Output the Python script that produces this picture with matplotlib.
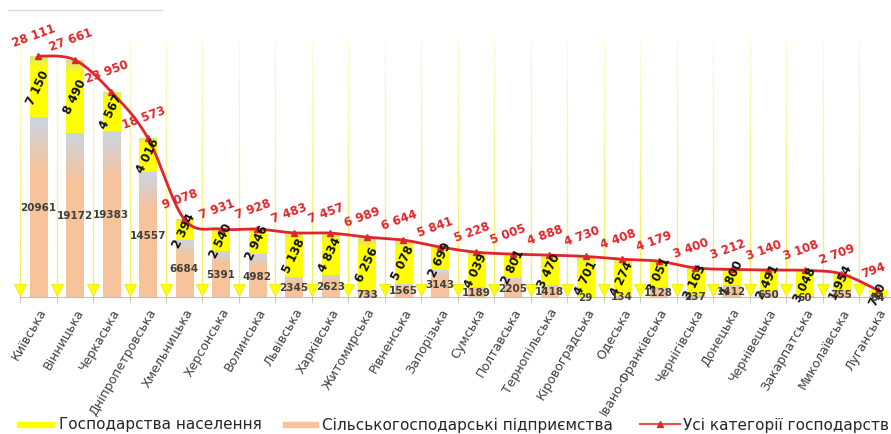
import numpy as np
import matplotlib
matplotlib.use("Agg")
from matplotlib import pyplot as plt
from matplotlib.colors import LinearSegmentedColormap
from matplotlib.lines import Line2D
from matplotlib.patches import Rectangle

# ---------------- data ----------------
regions = ["Київська", "Вінницька", "Черкаська", "Дніпропетровська", "Хмельницька",
           "Херсонська", "Волинська", "Львівська", "Харківська", "Житомирська",
           "Рівненська", "Запорізька", "Сумська", "Полтавська", "Тернопільська",
           "Кіровоградська", "Одеська", "Івано-Франківська", "Чернігівська",
           "Донецька", "Чернівецька", "Закарпатська", "Миколаївська", "Луганська"]

enterprises = [20961, 19172, 19383, 14557, 6684, 5391, 4982, 2345, 2623, 733,
               1565, 3143, 1189, 2205, 1418, 29, 134, 1128, 237, 1412, 650, 60, 755, 84]
households = [7150, 8490, 4567, 4016, 2394, 2540, 2946, 5138, 4834, 6256,
              5078, 2699, 4039, 2801, 3470, 4701, 4274, 3051, 3163, 1800, 2491, 3048, 1954, 710]
totals = [28111, 27661, 23950, 18573, 9078, 7931, 7928, 7483, 7457, 6989,
          6644, 5841, 5228, 5005, 4888, 4730, 4408, 4179, 3400, 3212, 3140, 3108, 2709, 794]

legend_labels = ["Господарства населення", "Сільськогосподарські підприємства",
                 "Усі категорії господарств"]

YELLOW = "#FFFF00"
PEACH = "#F7C39B"
RED = "#E0262B"


def catmull_rom(x, y, n=25):
    px = np.r_[x[0], x, x[-1]]
    py = np.r_[y[0], y, y[-1]]
    t = np.linspace(0, 1, n)
    xs, ys = [], []
    for i in range(len(x) - 1):
        for p, out in ((px, xs), (py, ys)):
            p0, p1, p2, p3 = p[i], p[i + 1], p[i + 2], p[i + 3]
            out.append(0.5 * (2 * p1 + (-p0 + p2) * t
                              + (2 * p0 - 5 * p1 + 4 * p2 - p3) * t ** 2
                              + (-p0 + 3 * p1 - 3 * p2 + p3) * t ** 3))
    return np.concatenate(xs), np.concatenate(ys)


def gradient_bar(ax, bar, colors, stops):
    cmap = LinearSegmentedColormap.from_list("g", list(zip(stops, colors)))
    x0, y0 = bar.get_x(), bar.get_y()
    w, h = bar.get_width(), bar.get_height()
    grad = np.linspace(0, 1, 256).reshape(-1, 1)
    im = ax.imshow(grad, cmap=cmap, aspect="auto", origin="upper",
                   extent=(x0, x0 + w, y0, y0 + h), zorder=2, interpolation="bilinear")
    im.set_clip_path(bar)


fig = plt.figure(figsize=(8.91, 4.35), dpi=100)
ax = fig.add_axes([20 / 891, 1 - 298 / 435, 876 / 891, 258 / 435])

x = np.arange(len(regions))
w = 0.47
ent = np.array(enterprises)
hh = np.array(households)
tot = np.array(totals)

# stacked bars (with gradient fills)
b1 = ax.bar(x, ent, w, color=PEACH, zorder=2)
b2 = ax.bar(x, hh, w, bottom=ent, color=YELLOW, zorder=2)
for bar in b1:
    gradient_bar(ax, bar, ["#CBD5E3", "#F7C39B", "#F7C39B"], [0, 0.3, 1])
for bar in b2:
    gradient_bar(ax, bar, ["#DCE08C", "#FFFF00", "#FFFF00"], [0, 0.2, 1])

ax.set_xlim(-0.5, 23.5)
ax.set_ylim(0, 30100)

# yellow drop lines with arrows at category boundaries
bounds = np.arange(-0.5, len(regions) - 1)
levels = np.linspace(0, 1, 30)
for bx in bounds:
    for k in range(len(levels) - 1):
        ax.plot([bx, bx], [levels[k], levels[k + 1]], transform=ax.get_xaxis_transform(),
                color="#F0F050", lw=0.9, alpha=1 - 0.85 * levels[k], zorder=1)
ax.plot(bounds, np.full(len(bounds), 0.028), "v", color="#FFFF00", ms=8,
        mec="#E8E800", mew=0.5, transform=ax.get_xaxis_transform(), zorder=3, clip_on=False)

# smoothed total line
sx, sy = catmull_rom(x.astype(float), tot.astype(float))
ax.plot(sx, sy, color=RED, lw=2, zorder=4)
ax.plot(x, tot, "^", color=RED, ms=5, zorder=5)

# labels
for i in range(len(regions)):
    ax.annotate(f"{totals[i]:,}".replace(",", " "), (x[i], tot[i]), xytext=(-3, 15),
                textcoords="offset points", ha="center", va="center", rotation=20,
                color=RED, fontsize=8.5, fontweight="bold", zorder=6)
    ax.text(x[i], ent[i] + hh[i] / 2, f"{households[i]:,}".replace(",", " "),
            ha="center", va="center", rotation=64, fontsize=8.5, fontweight="bold",
            color="#111111", zorder=6)
    ax.text(x[i], max(ent[i] / 2, 20), str(enterprises[i]), ha="center", va="center",
            fontsize=7.5, fontweight="bold", color="#404038", zorder=6)

# axes styling
for s in ("top", "right", "left"):
    ax.spines[s].set_visible(False)
ax.spines["bottom"].set_color("#BFBFBF")
ax.set_yticks([])
ax.set_xticks(x)
ax.set_xticklabels(regions, rotation=60, ha="right", rotation_mode="anchor",
                   fontsize=9, color="#404040")
ax.tick_params(axis="x", length=0, pad=6)
ax.set_xticks(bounds, minor=True)
ax.tick_params(axis="x", which="minor", length=4, color="#BFBFBF")

# stray line at top left
fig.add_artist(Line2D([8 / 891, 162 / 891], [1 - 11 / 435] * 2, color="#D9D9D9", lw=1))

# legend drawn by hand to match the wide spacing of the original
ly = 1 - 425 / 435
fig.add_artist(Rectangle((17 / 891, ly - 2.5 / 435), 37 / 891, 5 / 435, color=YELLOW))
fig.text(59 / 891, ly, legend_labels[0], va="center", fontsize=11, color="#262626")
fig.add_artist(Rectangle((283 / 891, ly - 2.5 / 435), 35 / 891, 5 / 435, color=PEACH))
fig.text(322 / 891, ly, legend_labels[1], va="center", fontsize=11, color="#262626")
fig.add_artist(Line2D([640 / 891, 680 / 891], [ly, ly], color="#E85050", lw=1.5))
fig.add_artist(Line2D([660 / 891], [ly], color=RED, marker="^", ms=5, lw=0))
fig.text(683 / 891, ly, legend_labels[2], va="center", fontsize=11, color="#262626")

fig.savefig("out.png", dpi=100)
